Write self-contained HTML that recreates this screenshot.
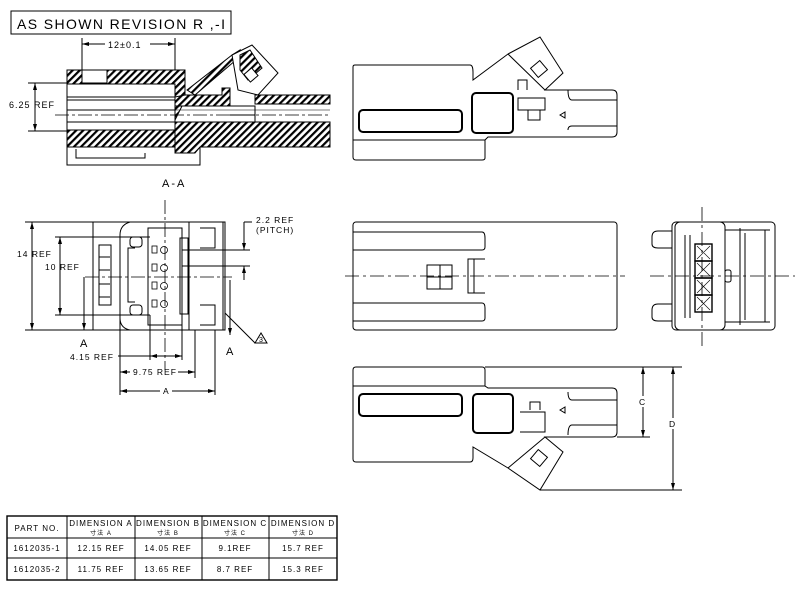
<!DOCTYPE html>
<html><head><meta charset="utf-8"><style>
html,body{margin:0;padding:0;background:#fff;}
svg{display:block;font-family:"Liberation Sans","Noto Sans CJK SC",sans-serif;}
text{fill:#000;}
</style></head><body>
<svg width="800" height="590" viewBox="0 0 800 590" xmlns="http://www.w3.org/2000/svg">
<defs>
<pattern id="h" width="5" height="5" patternUnits="userSpaceOnUse" patternTransform="rotate(45)">
<rect width="5" height="5" fill="#fff"/><rect width="2.2" height="5" fill="#000"/>
</pattern>
</defs>
<g fill="none" stroke="#000" stroke-width="1">
<rect x="11" y="11" width="220" height="23"/>
</g>
<text x="17" y="29" font-size="14" textLength="208" lengthAdjust="spacing">AS SHOWN REVISION R ,-I</text>

<!-- Section A-A -->
<g stroke="#000" stroke-width="1">
<path d="M67,70 H185 V100 L175,120 V147 H67 Z" fill="url(#h)"/>
<rect x="82" y="70" width="25" height="13" fill="#fff"/>
<rect x="67" y="84" width="108" height="46" fill="#fff"/>
<path d="M185,95 H222 V88 H230 V106 H175 V97 Z" fill="url(#h)"/>
<path d="M255,95 H330 V104 H255 Z" fill="url(#h)"/>
<path d="M175,122 H330 V147 H200 L195,153 H175 Z" fill="url(#h)"/>
<path d="M67,147 V165 H200 V147" fill="none"/>
<path d="M76,149 V158 H145 V153" fill="none"/>
<path d="M187,90 L232,55 L240,50 L236,60 L195,95 Z" fill="url(#h)"/>
<path d="M232,55 L252,45 L278,73 L258,95 L238,90 Z" fill="#fff"/>
<path d="M240,55 L250,50 L262,68 L248,80 L240,70 Z" fill="url(#h)"/>
<rect x="246" y="70" width="10" height="10" fill="#fff" transform="rotate(-40 251 75)"/>
<path d="M230,106 H255 V115 H230" fill="#fff"/>
<path d="M230,115 H255 V122" fill="none"/>
<line x1="67" y1="97" x2="175" y2="97"/><line x1="67" y1="100" x2="175" y2="100"/>
<line x1="67" y1="110" x2="175" y2="110"/><line x1="67" y1="122" x2="175" y2="122"/>
<line x1="175" y1="110" x2="330" y2="110" stroke-width="0.6"/>
<line x1="55" y1="115" x2="330" y2="115" stroke-dasharray="14,3,3,3" stroke-width="0.8"/>
<line x1="82" y1="38" x2="82" y2="70"/><line x1="175" y1="38" x2="175" y2="70"/>
<line x1="82" y1="44" x2="105" y2="44"/><line x1="150" y1="44" x2="175" y2="44"/>
<line x1="28" y1="83" x2="67" y2="83"/><line x1="28" y1="131" x2="67" y2="131"/>
<line x1="35" y1="83" x2="35" y2="131"/>
</g>
<g fill="#000"><path d="M82,44 l7,-2 v4z"/><path d="M175,44 l-7,-2 v4z"/><path d="M35,83 l-2,7 h4z"/><path d="M35,131 l-2,-7 h4z"/></g>
<text x="108" y="48" font-size="9" letter-spacing="1">12±0.1</text>
<text x="9" y="108" font-size="9" letter-spacing="1">6.25 REF</text>
<text x="162" y="187" font-size="11" letter-spacing="2">A-A</text>

<!-- Top right view -->
<g fill="none" stroke="#000" stroke-width="1">
<path d="M355,65 H470 Q473,65 473,72 V80 L508,54 L540,37 L563,73 L545,90 H612 Q617,90 617,95 V132 Q617,137 612,137 H488 L485,140 V158 Q485,160 482,160 H356 Q353,160 353,157 V67 Q353,65 355,65 Z"/>
<line x1="353" y1="140" x2="485" y2="140"/>
<rect x="359" y="110" width="103" height="22" rx="4" stroke-width="2"/>
<rect x="472" y="93" width="41" height="40" rx="4" stroke-width="2"/>
<line x1="508" y1="54" x2="545" y2="90"/>
<rect x="533" y="63" width="12" height="12" transform="rotate(-40 539 69)"/>
<path d="M518,90 V80 H527 V90"/>
<path d="M518,98 H545 V110 H518 Z M528,110 V120 H540 V110"/>
<path d="M568,90 Q568,100 572,100 H617 M568,130 Q568,126 572,126 H617"/>
<path d="M560,115 l5,-3 v6 z"/>
</g>

<!-- Front view -->
<g fill="none" stroke="#000" stroke-width="1">
<path d="M93,222 H225 V330 H93 Z"/>
<path d="M130,222 Q120,225 120,235 V318 Q120,328 130,330"/>
<rect x="130" y="237" width="12" height="10" rx="3"/><rect x="130" y="305" width="12" height="10" rx="3"/>
<path d="M135,248 H128 V302 H135"/>
<path d="M148,228 H182 V325 H148 Z"/>
<rect x="180" y="238" width="8" height="76"/>
<rect x="189" y="222" width="34" height="108"/>
<path d="M200,228 H215 V248 H200 M200,305 H215 V325 H200"/>
<rect x="99" y="245" width="12" height="60"/>
<path d="M99,257 H110 M99,270 H110 M99,284 H110 M99,297 H110"/>
<g stroke-width="0.8">
<rect x="152" y="246" width="5" height="7"/><circle cx="164" cy="250" r="3.5"/>
<rect x="152" y="264" width="5" height="7"/><circle cx="164" cy="268" r="3.5"/>
<rect x="152" y="282" width="5" height="7"/><circle cx="164" cy="286" r="3.5"/>
<rect x="152" y="300" width="5" height="7"/><circle cx="164" cy="304" r="3.5"/>
</g>
<line x1="165" y1="200" x2="165" y2="370" stroke-dasharray="14,3,3,3" stroke-width="0.8"/>
<line x1="85" y1="277" x2="232" y2="277" stroke-dasharray="14,3,3,3" stroke-width="0.8"/>
<line x1="25" y1="222" x2="93" y2="222"/><line x1="25" y1="330" x2="93" y2="330"/>
<line x1="32" y1="222" x2="32" y2="330"/>
<line x1="55" y1="237" x2="150" y2="237"/><line x1="55" y1="315" x2="150" y2="315"/>
<line x1="60" y1="237" x2="60" y2="315"/>
<line x1="182" y1="250" x2="250" y2="250"/><line x1="182" y1="266" x2="250" y2="266"/>
<line x1="244" y1="222" x2="244" y2="250"/><line x1="244" y1="266" x2="244" y2="280"/>
<line x1="244" y1="222" x2="252" y2="222"/>
<line x1="84" y1="277" x2="84" y2="330"/><line x1="230" y1="280" x2="230" y2="335"/>
<line x1="225" y1="313" x2="255" y2="343"/>
<path d="M255,343 l6,-10 l6,10 z"/>
<line x1="150" y1="315" x2="150" y2="360"/><line x1="182" y1="315" x2="182" y2="360"/>
<line x1="120" y1="318" x2="120" y2="395"/><line x1="195" y1="330" x2="195" y2="378"/>
<line x1="215" y1="330" x2="215" y2="395"/>
<line x1="118" y1="356" x2="182" y2="356"/>
<line x1="120" y1="372" x2="130" y2="372"/><line x1="178" y1="372" x2="195" y2="372"/>
<line x1="120" y1="391" x2="160" y2="391"/><line x1="172" y1="391" x2="215" y2="391"/>
</g>
<g fill="#000">
<path d="M32,222 l-2,7 h4z"/><path d="M32,330 l-2,-7 h4z"/>
<path d="M60,237 l-2,7 h4z"/><path d="M60,315 l-2,-7 h4z"/>
<path d="M244,250 l-2,-7 h4z"/><path d="M244,266 l-2,7 h4z"/>
<path d="M84,330 l-2,-7 h4z"/><path d="M230,335 l-2,-7 h4z"/>
<path d="M150,356 l7,-2 v4z"/><path d="M182,356 l-7,-2 v4z"/>
<path d="M120,372 l7,-2 v4z"/><path d="M195,372 l-7,-2 v4z"/>
<path d="M120,391 l7,-2 v4z"/><path d="M215,391 l-7,-2 v4z"/>
</g>
<text x="17" y="257" font-size="8.5" letter-spacing="1">14 REF</text>
<text x="45" y="270" font-size="8.5" letter-spacing="1">10 REF</text>
<text x="256" y="223" font-size="8.5" letter-spacing="1">2.2 REF</text>
<text x="256" y="233" font-size="8.5" letter-spacing="1">(PITCH)</text>
<text x="80" y="347" font-size="11">A</text>
<text x="226" y="355" font-size="11">A</text>
<text x="259" y="342" font-size="7">3</text>
<text x="70" y="360" font-size="8.5" letter-spacing="1">4.15 REF</text>
<text x="133" y="375" font-size="8.5" letter-spacing="1">9.75 REF</text>
<text x="163" y="394" font-size="8.5">A</text>

<!-- Middle long view -->
<g fill="none" stroke="#000" stroke-width="1">
<rect x="353" y="222" width="264" height="108" rx="3"/>
<path d="M353,232 H482 Q485,232 485,238 V247 Q485,250 482,250 H353"/>
<path d="M353,303 H482 Q485,303 485,308 V318 Q485,321 482,321 H353"/>
<path d="M485,259 H468 V293 H485"/><line x1="474" y1="259" x2="474" y2="293"/>
<rect x="427" y="265" width="25" height="24"/><line x1="440" y1="265" x2="440" y2="289"/><line x1="427" y1="277" x2="452" y2="277"/>
<line x1="345" y1="276" x2="625" y2="276" stroke-dasharray="14,4,3,4" stroke-width="0.8"/>
</g>

<!-- End view -->
<g fill="none" stroke="#000" stroke-width="1">
<rect x="672" y="222" width="103" height="108" rx="4"/>
<rect x="675" y="222" width="50" height="108" rx="5"/>
<path d="M672,231 H658 Q652,231 652,237 V244 Q652,248 658,248 H672 M672,304 H658 Q652,304 652,310 V317 Q652,321 658,321 H672"/>
<path d="M685,235 V318 M690,235 V318"/>
<path d="M740,228 V325 M745,233 V320 M765,230 V322"/>
<path d="M725,230 H770 M725,322 H770"/>
<g stroke-width="1.4">
<rect x="695" y="244" width="17" height="17"/><rect x="695" y="261" width="17" height="17"/>
<rect x="695" y="278" width="17" height="17"/><rect x="695" y="295" width="17" height="17"/>
</g>
<g stroke-width="0.6">
<path d="M697,246 L710,259 M710,246 L697,259 M697,263 L710,276 M710,263 L697,276 M697,280 L710,293 M710,280 L697,293 M697,297 L710,310 M710,297 L697,310"/>
</g>
<rect x="725" y="270" width="6" height="12" rx="2"/>
<line x1="702" y1="207" x2="702" y2="350" stroke-dasharray="14,4,3,4" stroke-width="0.8"/>
<line x1="650" y1="276" x2="795" y2="276" stroke-dasharray="14,4,3,4" stroke-width="0.8"/>
</g>

<!-- Bottom view -->
<g fill="none" stroke="#000" stroke-width="1">
<path d="M356,367 H482 Q485,367 485,370 V386 L488,388 H612 Q617,388 617,393 V432 Q617,437 612,437 H545 L563,452 L540,490 L508,468 L473,447 V458 Q473,462 470,462 H356 Q353,462 353,459 V370 Q353,367 356,367 Z"/>
<line x1="353" y1="386" x2="485" y2="386"/>
<rect x="359" y="394" width="103" height="22" rx="4" stroke-width="2"/>
<rect x="473" y="394" width="40" height="39" rx="4" stroke-width="2"/>
<line x1="508" y1="468" x2="545" y2="437"/>
<rect x="533" y="452" width="12" height="12" transform="rotate(40 539 458)"/>
<path d="M530,410 V402 H540 V410 M520,412 H545 V432 H520"/>
<path d="M568,392 Q568,400 572,400 H617 M568,435 Q568,425 572,425 H617"/>
<path d="M560,410 l5,-3 v6 z"/>
<line x1="485" y1="367" x2="682" y2="367"/>
<line x1="617" y1="437" x2="650" y2="437"/>
<line x1="540" y1="490" x2="682" y2="490"/>
<line x1="643" y1="367" x2="643" y2="437"/>
<line x1="673" y1="367" x2="673" y2="490"/>
</g>
<g fill="#000">
<path d="M643,367 l-2,7 h4z"/><path d="M643,437 l-2,-7 h4z"/>
<path d="M673,367 l-2,7 h4z"/><path d="M673,490 l-2,-7 h4z"/>
</g>
<rect x="638" y="396" width="10" height="11" fill="#fff"/><text x="639" y="405" font-size="8.5">C</text>
<rect x="668" y="418" width="10" height="11" fill="#fff"/><text x="669" y="427" font-size="8.5">D</text>

<!-- Table -->
<g fill="none" stroke="#000" stroke-width="1">
<rect x="7" y="516" width="330" height="64" stroke-width="1.4"/>
<line x1="7" y1="538" x2="337" y2="538"/><line x1="7" y1="558" x2="337" y2="558"/>
<line x1="67" y1="516" x2="67" y2="580"/><line x1="135" y1="516" x2="135" y2="580"/>
<line x1="202" y1="516" x2="202" y2="580"/><line x1="269" y1="516" x2="269" y2="580"/>
</g>
<g font-size="8" letter-spacing="1" text-anchor="middle">
<text x="37" y="531">PART NO.</text>
<text x="101" y="526">DIMENSION A</text><text x="101" y="535" font-size="6">寸法 A</text>
<text x="168" y="526">DIMENSION B</text><text x="168" y="535" font-size="6">寸法 B</text>
<text x="235" y="526">DIMENSION C</text><text x="235" y="535" font-size="6">寸法 C</text>
<text x="303" y="526">DIMENSION D</text><text x="303" y="535" font-size="6">寸法 D</text>
<text x="37" y="551">1612035-1</text><text x="101" y="551">12.15 REF</text><text x="168" y="551">14.05 REF</text><text x="235" y="551">9.1REF</text><text x="303" y="551">15.7 REF</text>
<text x="37" y="572">1612035-2</text><text x="101" y="572">11.75 REF</text><text x="168" y="572">13.65 REF</text><text x="235" y="572">8.7 REF</text><text x="303" y="572">15.3 REF</text>
</g>
</svg>
</body></html>
